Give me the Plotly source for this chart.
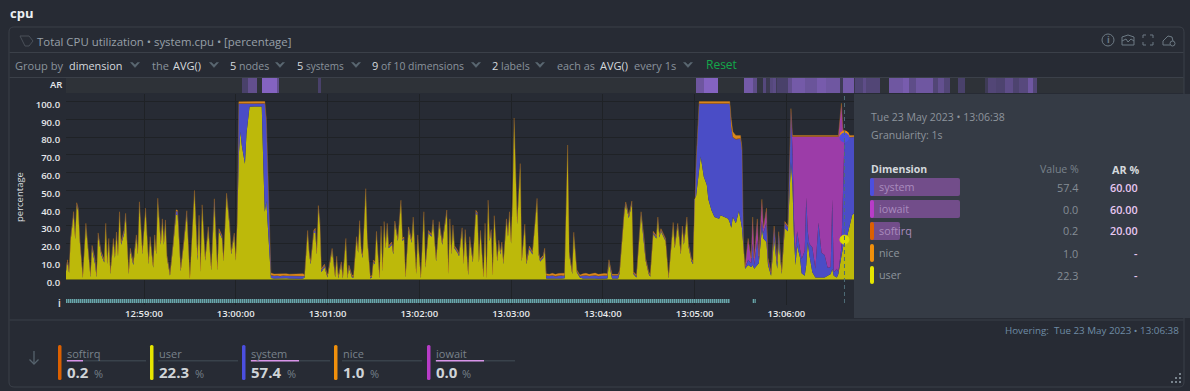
import datetime as dt
import plotly.graph_objects as go

W, H = 1190, 391
FONT = "Open Sans"

# ---- chart values: seconds relative to 13:00:00 and percentages per dimension
seconds = [
    -111,-110,-109,-108,-106,-105,-104,-103,-102,-101,
    -100,-98,-96,-95,-94,-92,-91,-90,-88,-86,
    -85,-84,-83,-82,-80,-79,-78,-77,-76,-75,
    -73,-72,-70,-69,-67,-65,-64,-63,-61,-59,
    -57,-56,-54,-53,-52,-51,-49,-48,-47,-46,
    -45,-43,-41,-39,-38,-36,-34,-32,-30,-27,
    -25,-24,-23,-22,-20,-18,-16,-14,-12,-11,
    -9,-8,-6,-4,-3,-1,0,1,
    2,3,4,6,7,9,12,15,17,18,19,20,22,23,
    25,27,29,31,33,35,37,39,41,43,44,
    45,47,48,49,51,52,53,54,55,56,
    58,60,63,65,66,67,69,70,72,73,
    74,76,77,79,80,81,82,83,85,86,
    88,89,90,91,92,94,95,96,97,98,
    99,100,102,103,104,106,108,109,110,111,
    113,115,116,118,119,121,123,124,126,128,
    129,131,133,135,138,139,140,141,142,143,
    145,146,148,149,150,152,153,155,157,158,
    159,160,162,163,164,165,166,167,168,169,
    171,172,173,174,175,177,178,179,180,181,
    182,184,186,187,189,190,192,194,195,197,
    198,199,201,202,
    203,205,207,209,211,213,214,215,
    217,218,220,221,223,225,
    227,229,231,233,235,237,239,241,243,
    244,246,250,251,254,255,257,259,260,262,
    265,267,268,270,271,273,275,276,277,278,
    279,281,283,286,287,289,291,292,293,295,
    296,298,299,
    300,301,303,304,306,308,309,311,313,316,
    317,320,322,323,324,325,327,329,330,331,
    332,333,
    335,337,338,339,341,342,344,345,347,348,
    350,352,354,355,357,359,361,
    363,364,365,366,367,369,370,372,373,374,
    375,377,379,381,383,385,387,389,390,391,
    393,394,396,397,398,400,403,405,410,
]

user = [
    4.5,9.5,3.5,21.5,36.5,22.5,41.5,38.5,21.5,8.5,
    0.8,30,11,1.2,17.5,8.5,1.2,24.5,14,9.5,
    30,8.5,21.5,3,21.5,12,25,13,36.5,19.5,
    25.5,35.5,3,16,8,23.5,14,42,14,38.5,
    8.5,22.5,6.5,23.5,14,44,19.5,32.5,19.5,32,
    12,2,18,36.5,36,4.5,19.5,36.5,0.3,48.5,
    10.5,34.5,4,40.5,10.5,28,5,42,5,27,
    23,10,47,29,14,24.5,10.5,32,
    70,83,75,65,82,97,97.2,97,97.2,65,38,44,14,0.8,
    0.4,0.5,0.3,0.4,0.6,0.4,0.3,0.5,0.4,0.3,0.5,
    1,26,14,8.5,26,26,14,40,31,4,
    7,1,16,1,11.5,0.5,8.5,0.5,21.5,0.5,
    6.5,1,1,22.5,15,31.5,16,12,49.5,21.5,
    0.5,1,9.5,8.5,25.5,0.5,28.5,4.5,31,17.5,
    30,17.5,19.5,14,31.3,21.5,43,21.5,22.5,1,
    28,20.5,33.5,3,23.5,0.5,36.5,6.5,26,24,
    32,10,31,19.5,37.5,3,32.5,14,29,17.5,
    15,13,27.5,8.5,26.5,2.5,22.5,9.5,37,36,
    9.5,26,1,30,0.5,43,21.5,26.5,2,34.3,
    10,20.5,14,19.5,8.5,32.5,24,36.5,20,44,
    89,31,63.5,10,29.5,8.5,17,14,23.5,44,
    14,10,12,16,
    0.5,0.4,0.5,0.3,0.4,0.5,0.4,0.6,
    74,14,3,25,4,1,
    0.4,0.5,0.3,0.5,0.4,0.3,0.5,0.4,0.5,
    9.5,0.5,0.5,3.5,36.5,42,34.5,42.5,3,1,
    36.5,21.5,10.5,3,1.5,25.5,23,33.5,23.5,27,
    25,21.5,0.5,30.5,17.5,30,14,28.5,19.5,33.5,
    18.5,10,8.5,
    45,47,62,69,57.8,53,45,39,35,34,
    36,35,34,32,29,35,31.5,38.5,33,28.7,
    17.4,6,
    8,7,8,6,8,9,28.7,23,21,8,
    2,23,6,21,3,28.7,27,
    66,53,23,8,19,12,3.4,2,8,21,
    14,4,1,1,1,1,2,3,6,2,
    1,3,13,18,22.3,25,36,38,30,
]

system = [
    0.8,0.8,0.7,0.8,0.9,0.8,0.9,0.8,0.8,0.7,
    0.5,0.8,1.1,0.6,0.9,2,0.6,0.9,0.8,0.8,
    0.8,0.7,0.8,0.6,0.8,0.8,0.9,0.7,0.8,0.8,
    1.6,0.9,0.6,0.8,0.9,0.8,0.7,0.9,0.7,0.8,
    0.7,0.8,0.6,0.8,0.7,0.9,0.8,0.8,0.8,0.7,
    0.7,0.6,1,1.9,2,0.6,0.8,1.4,0.2,0.8,
    2.2,0.8,0.5,0.7,0.7,0.9,0.5,2.6,0.5,0.8,
    0.9,0.5,0.7,1.5,0.7,0.8,0.6,0.8,
    28.7,15.7,23.7,33.7,16.7,1.8,1.7,1.7,1.7,33.7,60.8,44.8,22.8,1.5,
    1.4,1.5,1.4,1.6,1.2,1.4,1.5,1.3,1.6,1.4,1.5,
    0.7,0.8,0.6,0.8,0.8,2,0.7,0.8,0.8,1.2,
    0.8,0.6,0.7,0.6,0.8,0.5,0.7,0.5,0.8,0.5,
    0.7,0.6,0.5,0.8,0.7,0.8,0.7,0.8,0.8,0.8,
    0.5,0.5,0.7,0.6,0.8,0.5,0.8,0.6,0.8,0.7,
    0.8,0.7,0.8,0.7,0.8,0.7,0.8,0.7,0.7,0.6,
    0.8,0.7,0.8,0.6,0.8,0.5,0.8,0.7,0.8,0.7,
    0.8,0.7,0.8,0.7,0.8,0.6,0.8,0.7,0.8,0.7,
    0.7,0.7,0.8,0.6,0.8,0.6,0.8,0.7,1.1,0.9,
    0.7,0.8,0.5,0.8,0.5,0.8,0.7,0.8,0.5,0.8,
    0.7,0.8,0.7,0.8,0.7,0.8,0.7,0.8,0.7,0.9,
    1,0.8,0.9,0.7,0.8,0.7,1,0.7,0.8,0.8,
    0.7,0.7,0.7,0.8,
    1.5,1.4,1.6,1.3,1.5,1.7,1.4,1.5,
    0.8,0.7,0.6,0.8,0.6,0.7,
    1.5,1.6,1.4,1.5,1.7,1.4,1.5,1.6,1.4,
    0.8,1.6,1.6,0.8,0.8,0.8,0.8,0.8,0.6,0.7,
    0.8,0.8,0.7,0.6,0.5,0.8,0.8,0.8,0.8,0.8,
    0.8,0.8,0.5,0.8,0.7,0.8,0.7,0.8,0.8,0.8,
    0.8,0.8,0.8,
    0.7,17.7,36.7,29.7,40.9,45.7,53.7,59.7,63.7,64.7,
    62.7,63.7,64.7,66.7,56.4,44.7,47.1,40.7,46.1,43.7,
    1,0.5,
    3,2,12,2,14,2,4,3,11,2,
    1,5,3,5,0.8,2.8,2,
    28,20,11,7,8,6,8,14,38,6,
    6,14,5,31,14,12.7,4.5,4,39,2,
    5,1,5,30,57.4,54.9,44,42,50,
]

iowait = [0.0] * 295 + [
    11.3,2.3,14.3,3.3,11.3,1.3,11.6,2.3,7.3,1.3,
    0.3,1.3,0.3,0.1,0,0.3,0.3,
    1.3,7.2,46.2,65.2,53.2,62.2,68.8,64.2,34.2,53.2,
    60.2,62.2,74.2,48.2,65.2,66.5,73.7,73.2,35.2,76.2,
    74.2,76.2,80.3,36,0,0,0,0,0,
]

softirq = [0.2] * 78 + [0.3] * 14 + [0.2] * 181 + [0.3] * 20 + [0.2] * 48

nice = [0.5] * 78 + [
    0.9,0.9,0.9,0.9,0.9,0.9,0.9,0.9,0.9,0.9,0.9,0.9,0.9,1,
    1,0.9,1.1,1,1.2,0.9,1,1.1,0.9,1,1,
] + [0.5] * 114 + [
    1,0.9,1.1,1,1.2,0.9,1,1.1,
    0.5,0.5,0.5,0.5,0.5,0.5,
    1,1.1,0.9,1,1.2,0.9,1,1.1,1,
] + [0.5] * 33 + [
    1,1,1,1,1,1,1,1,1,1,
    1,1,1,1,4,3,2,1.4,1.5,1,
    0.4,0.4,
] + [0.5] * 17 + [0.5] * 24 + [1.0,0.8,0.7,0.7,0.7]

hover_second = 398
hover_user = 22.3
hover_system_top = 79.7
hover_nice_top = 80.9

ar_edges = [-111,4,8,14,17,27,28,54,56,301,306,315,332,338,341,345,347,349,351,353,354,
            361,364,372,380,386,395,397,404,405,410,412,421,427,436,440,445,456,459,463,
            467,472,477,490,492,497,503,508,512,518,521,524,620]
ar_values = [0,25,45,0,85,45,0,25,0,55,85,0,60,42,5,35,12,35,40,15,25,
             45,60,52,64,56,15,60,10,30,42,32,0,56,66,42,56,32,46,32,
             0,25,0,15,32,28,42,28,36,56,32,0]

annotation_seconds = [-111,323,None,338,340]
annotation_levels = [0.5,0.5,None,0.5,0.5]

y_ticks = [0,10,20,30,40,50,60,70,80,90,100]
x_tick_seconds = [-60,0,60,120,180,240,300,360]

legend_names = ["softirq","user","system","nice","iowait"]
legend_values = ["0.2","22.3","57.4","1.0","0.0"]
legend_ar = [20,0,60,0,60]
legend_colors = ["#dc6000","#e5e500","#4b4fe0","#f0900c","#b83cc8"]

tip_names = ["system","iowait","softirq","nice","user"]
tip_values = ["57.4","0.0","0.2","1.0","22.3"]
tip_ar = ["60.00","60.00","20.00","-","-"]
tip_ar_width = [60,60,20,0,0]
tip_colors = ["#4b4fe0","#b83cc8","#dc6000","#f0900c","#e5e500"]

# ---- helpers
BASE = dt.datetime(2023, 5, 23, 13, 0, 0)
def when(s):
    return None if s is None else BASE + dt.timedelta(seconds=s)
def fx(x): return x / W
def fy(y): return 1 - y / H

times = [when(s) for s in seconds]
shapes, notes = [], []

def rect(x0, y0, x1, y1, fill, line=None, layer="above", width=1):
    shapes.append(dict(type="rect", xref="paper", yref="paper", x0=fx(x0), x1=fx(x1),
                       y0=fy(y1), y1=fy(y0), fillcolor=fill, layer=layer,
                       line=dict(color=line or fill, width=width if line else 0)))

def path(points, color, width=1, fill=None, close=False):
    d = "M" + " L".join(f"{fx(a):.5f},{fy(b):.5f}" for a, b in points) + (" Z" if close else "")
    shapes.append(dict(type="path", xref="paper", yref="paper", path=d, layer="above",
                       fillcolor=fill or "rgba(0,0,0,0)", line=dict(color=color, width=width)))

def rrect(x0, y0, x1, y1, r, fill="rgba(0,0,0,0)", line=None, width=1):
    X = lambda v: f"{fx(v):.5f}"
    Y = lambda v: f"{fy(v):.5f}"
    d = (f"M{X(x0+r)},{Y(y0)} L{X(x1-r)},{Y(y0)} Q{X(x1)},{Y(y0)} {X(x1)},{Y(y0+r)} "
         f"L{X(x1)},{Y(y1-r)} Q{X(x1)},{Y(y1)} {X(x1-r)},{Y(y1)} L{X(x0+r)},{Y(y1)} "
         f"Q{X(x0)},{Y(y1)} {X(x0)},{Y(y1-r)} L{X(x0)},{Y(y0+r)} Q{X(x0)},{Y(y0)} {X(x0+r)},{Y(y0)} Z")
    shapes.append(dict(type="path", xref="paper", yref="paper", path=d, layer="above",
                       fillcolor=fill, line=dict(color=line or "rgba(0,0,0,0)", width=width if line else 0)))

def text(x, y, s, size=11, color="#9aa1aa", anchor="left", weight=400, angle=0):
    notes.append(dict(x=fx(x), y=fy(y), xref="paper", yref="paper", text=s, showarrow=False,
                      xanchor=anchor, yanchor="middle", borderpad=0, textangle=angle,
                      font=dict(family=FONT, size=size, color=color, weight=weight)))

def chevron(cx, cy, color="#5b6872"):
    path([(cx-4.5, cy-2.5), (cx, cy+2.5), (cx+4.5, cy-2.5), (cx+2.5, cy-2.5), (cx, cy), (cx-2.5, cy-2.5)],
         color, 0.5, fill=color, close=True)

# ---- traces
fig = go.Figure()
fig.add_trace(go.Heatmap(x=[when(s) for s in ar_edges], y=[0, 1], z=[ar_values], xaxis="x", yaxis="y2",
                         zmin=0, zmax=100, showscale=False, hoverinfo="skip",
                         colorscale=[[0, "#2e3238"], [0.25, "#49416a"], [0.6, "#745aa8"], [1, "#8e68d0"]]))

series = [("user", user, "#bdb90a", "rgba(189,185,10,0)", 0),
          ("system", system, "#4a4dc6", "rgba(74,77,198,0)", 0),
          ("iowait", iowait, "#9c3ca8", "rgba(156,60,168,0)", 0),
          ("softirq", softirq, "#c8621a", "rgba(200,98,26,0)", 0),
          ("nice", nice, "#d9861a", "rgba(217,134,26,0.55)", 0.5)]
for name, vals, fill, line, w in series:
    fig.add_trace(go.Scatter(x=times, y=vals, name=name, stackgroup="cpu", mode="lines", fillcolor=fill,
                             line=dict(color=line, width=w), hoverinfo="skip"))

fig.add_trace(go.Scatter(x=[when(s) for s in annotation_seconds], y=annotation_levels, yaxis="y3", mode="lines",
                         line=dict(color="#68a6aa", width=4, dash="1.5px,0.5px"), hoverinfo="skip", connectgaps=False))

for val, col, size in [(hover_nice_top, "#f0900c", 9), (hover_system_top, "#4b4fe0", 9), (hover_user, "#dcdc00", 9)]:
    fig.add_trace(go.Scatter(x=[when(hover_second)], y=[val], mode="markers", hoverinfo="skip",
                             marker=dict(color=col, size=size, line=dict(color=col, width=1))))

shapes.append(dict(type="line", xref="x", yref="paper", x0=when(hover_second), x1=when(hover_second),
                   y0=fy(303), y1=fy(95), line=dict(color="#4f6c78", width=1, dash="4px,3px"), layer="above"))

# ---- card and separators
rrect(9, 27, 1184, 387, 5, line="#3b4049")
rect(9.5, 52, 1183.5, 53, "#3b4049")
rect(9.5, 77, 1183.5, 78, "#3b4049")
rect(9.5, 319.5, 1183.5, 320.5, "#3b4049")

text(9, 13, "cpu", 13, "#eceff2", weight=700)

# tag icon before the title
path([(20, 36), (29, 36), (33, 41), (29, 46), (25, 46)], "#4a5059", 1, close=True)
text(36, 41, "Total CPU utilization • system.cpu • [percentage]", 11.4, "#98a0a9")

# toolbar
G, B = "#8a939c", "#d6dade"
for x, s, c, sz in [(14, "Group by", G, 11.1), (68, "dimension", B, 10.9), (151, "the", G, 11), (172, "AVG()", B, 11),
                    (229, "5", B, 11), (238, "nodes", G, 10.6), (296, "5", B, 11), (305, "systems", G, 10),
                    (371, "9", B, 11), (380, "of 10 dimensions", G, 10.4), (491, "2", B, 11), (500, "labels", G, 10.6),
                    (556, "each as", G, 10.8), (599, "AVG()", B, 11), (633, "every 1s", G, 11)]:
    text(x, 65.5, s, sz, c)
for cx in (135, 214, 280, 356, 476, 540, 688):
    chevron(cx, 65)
text(705, 64, "Reset", 12, "#13a84a")

# top-right icons
IC = "#6d7a84"
shapes.append(dict(type="circle", xref="paper", yref="paper", x0=fx(1102), x1=fx(1114), y0=fy(46), y1=fy(34),
                   line=dict(color=IC, width=1), layer="above"))
text(1108, 40, "i", 9, IC, anchor="center", weight=700)
path([(1122, 37), (1128, 35), (1134, 37), (1134, 45), (1122, 45)], IC, 1, close=True)
path([(1122, 41), (1126, 39), (1128, 42), (1131, 39), (1134, 41)], IC, 1)
for sx, sy in [(1143, 35), (1153, 35), (1143, 45), (1153, 45)]:
    dx, dy = (1 if sx < 1148 else -1), (1 if sy < 40 else -1)
    path([(sx+3*dx, sy), (sx, sy), (sx, sy+3*dy)], IC, 1)
path([(1163, 45), (1163, 41), (1168, 36), (1172, 37), (1173, 41)], IC, 1)
path([(1163, 45), (1170, 45)], IC, 1)
shapes.append(dict(type="circle", xref="paper", yref="paper", x0=fx(1170), x1=fx(1175), y0=fy(46), y1=fy(41),
                   line=dict(color=IC, width=1), layer="above"))

# chart side labels
text(63, 85, "AR", 9.5, "#e8eaec", anchor="right", weight=600)
text(62, 303, "i", 10, "#e8eaec", anchor="right", weight=600)
text(19, 197, "percentage", 9.5, "#d8dbde", anchor="center", angle=-90)

# tooltip panel
rect(854, 94, 1190, 318, "#353b45")
text(870, 117, "Tue 23 May 2023 • 13:06:38", 10.5, "#8d949c")
text(870, 135, "Granularity: 1s", 10.5, "#8d949c")
text(870, 169, "Dimension", 10.5, "#d4d8dc", weight=700)
text(1080, 169, "Value %", 10.6, "#79828b", anchor="right")
text(1140, 169, "AR %", 10.8, "#d4d8dc", anchor="right", weight=700)
for i, (n, v, a, aw, c) in enumerate(zip(tip_names, tip_values, tip_ar, tip_ar_width, tip_colors)):
    y = 187 + i * 22
    if aw:
        rrect(870, y - 9, 870 + aw * 1.5, y + 9, 2, fill="#724d8a")
    rrect(870, y - 9, 874, y + 9, 2, fill=c)
    text(878, y - 1, n, 10.8, "#a98bbd" if aw else "#8d949c")
    text(1079, y, v, 10.8, "#858d95", anchor="right")
    text(1139, y, a, 10.8, "#e8c8f2", anchor="right", weight=600)

# hover caption
text(1180, 330, "Hovering:  Tue 23 May 2023 • 13:06:38", 9.8, "#6f8ba5", anchor="right")

# resize grip
for gx, gy in [(1179, 373), (1175, 377), (1179, 377), (1171, 381), (1175, 381), (1179, 381)]:
    rect(gx, gy, gx + 2, gy + 2, "#78838c")

# bottom legend
path([(34, 351), (34, 364)], "#56636d", 1.3)
path([(29.5, 359.5), (34, 364), (38.5, 359.5)], "#56636d", 1.3)
legend_x = [58, 150, 242, 334, 427]
percent_x = [93, 194, 286, 369, 461]
for lx, px_, n, v, ar, c in zip(legend_x, percent_x, legend_names, legend_values, legend_ar, legend_colors):
    rrect(lx, 345, lx + 3.5, 380, 1.5, fill=c)
    text(lx + 8, 353, n, 11, "#79828b")
    rect(lx + 8, 360, lx + 88, 361.5, "#39424b")
    if ar:
        rect(lx + 9, 360, lx + 9 + ar * 0.8, 361.5, "#d893e8")
    text(lx + 8, 372, v, 15, "#d0d4d8", weight=700)
    text(px_, 373, "%", 11, "#74808a")

fig.update_layout(
    width=W, height=H, autosize=False, margin=dict(l=0, r=0, t=0, b=0, pad=0),
    paper_bgcolor="#272b34", plot_bgcolor="#272b34", showlegend=False, hovermode=False,
    font=dict(family=FONT),
    shapes=shapes, annotations=notes,
    xaxis=dict(type="date", domain=[fx(66), fx(1184)], range=[when(-111), when(620)],
               anchor="y", tickvals=[when(s) for s in x_tick_seconds], tickformat="%H:%M:%S",
               showgrid=True, gridcolor="#1f2226", gridwidth=1, showline=False, zeroline=False,
               ticks="outside", ticklen=7, tickcolor="rgba(0,0,0,0)",
               tickfont=dict(family=FONT, size=9.5, color="#e6e8ea", weight=600)),
    yaxis=dict(domain=[fy(298), fy(94)], range=[-10.5, 104.2], tickvals=y_ticks, tickformat=".1f",
               showgrid=True, gridcolor="#1f2226", gridwidth=1, zeroline=True, zerolinecolor="#55561f",
               zerolinewidth=1, showline=False, ticks="outside", ticklen=3, tickcolor="rgba(0,0,0,0)",
               ticklabelshift=3,
               tickfont=dict(family=FONT, size=9.5, color="#e6e8ea", weight=600)),
    yaxis2=dict(domain=[fy(93), fy(78)], range=[0, 1], anchor="x", showticklabels=False, showgrid=False,
                zeroline=False, ticks=""),
    yaxis3=dict(domain=[fy(305), fy(297)], range=[0, 1], anchor="x", showticklabels=False, showgrid=False,
                zeroline=False, ticks=""),
)

assert len({len(seconds), len(user), len(system), len(iowait), len(softirq), len(nice)}) == 1, \
    [len(a) for a in (seconds, user, system, iowait, softirq, nice)]

fig.write_html("out.html", config=dict(displayModeBar=False, staticPlot=True),
               post_script="document.body.style.margin='0';document.body.style.overflow='hidden';")
